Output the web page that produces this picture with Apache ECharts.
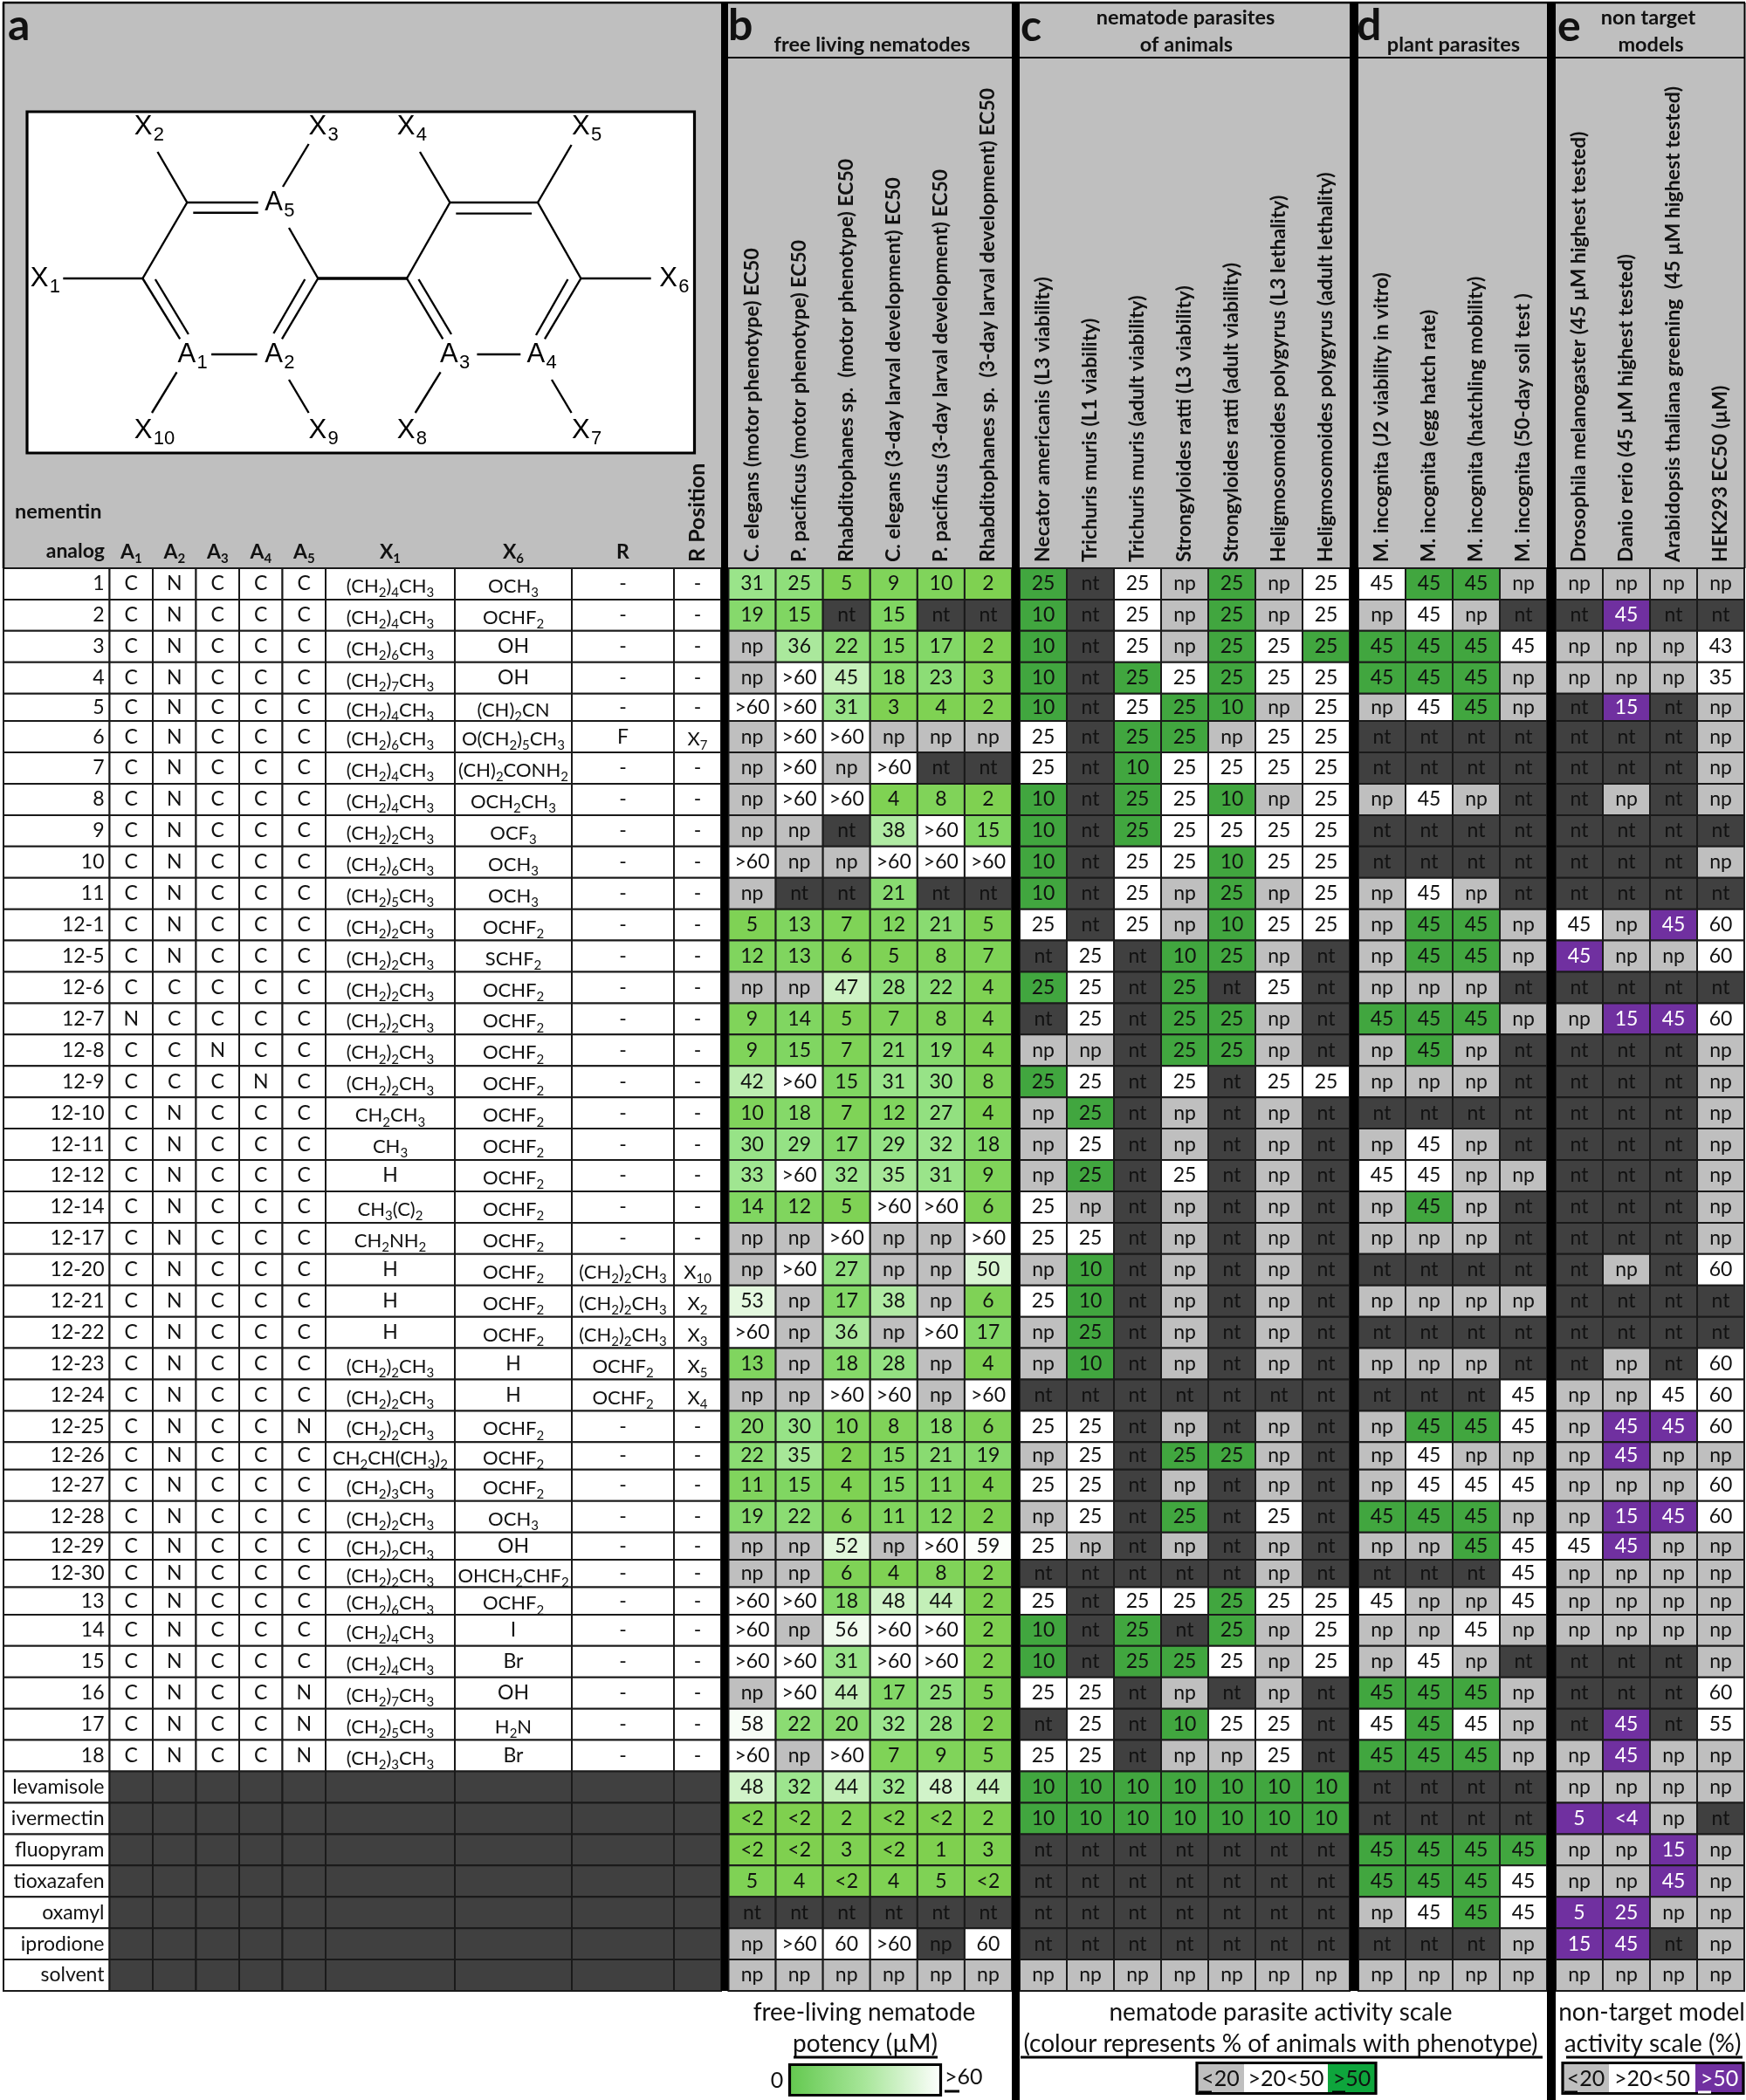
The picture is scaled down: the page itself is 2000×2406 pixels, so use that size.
<!DOCTYPE HTML>
<html>
<head>
    <meta charset="utf-8">
    <title>nementin analogs</title>
    <script type="text/javascript" src="https://cdn.jsdelivr.net/npm/echarts@6/dist/echarts.min.js"></script>
</head>
<body style="padding:0px;margin:0px;background:#fff;">
    <div id="main" style="width:2000px;height:2406px;padding:0px;margin:0px;"></div>
    <script type="text/javascript">
        // compound table, one entry per row
        var rowLabels = ['1','2','3','4','5','6','7','8','9','10','11','12-1','12-5','12-6','12-7','12-8','12-9','12-10','12-11','12-12','12-14','12-17','12-20','12-21','12-22','12-23','12-24','12-25','12-26','12-27','12-28','12-29','12-30','13','14','15','16','17','18','levamisole','ivermectin','fluopyram','tioxazafen','oxamyl','iprodione','solvent'];
        var atoms = ['CNCCC','CNCCC','CNCCC','CNCCC','CNCCC','CNCCC','CNCCC','CNCCC','CNCCC','CNCCC','CNCCC','CNCCC','CNCCC','CCCCC','NCCCC','CCNCC','CCCNC','CNCCC','CNCCC','CNCCC','CNCCC','CNCCC','CNCCC','CNCCC','CNCCC','CNCCC','CNCCC','CNCCN','CNCCC','CNCCC','CNCCC','CNCCC','CNCCC','CNCCC','CNCCC','CNCCC','CNCCN','CNCCN','CNCCN'];
        var x1Groups = ['(CH₂)₄CH₃','(CH₂)₄CH₃','(CH₂)₆CH₃','(CH₂)₇CH₃','(CH₂)₄CH₃','(CH₂)₆CH₃','(CH₂)₄CH₃','(CH₂)₄CH₃','(CH₂)₂CH₃','(CH₂)₆CH₃','(CH₂)₅CH₃','(CH₂)₂CH₃','(CH₂)₂CH₃','(CH₂)₂CH₃','(CH₂)₂CH₃','(CH₂)₂CH₃','(CH₂)₂CH₃','CH₂CH₃','CH₃','H','CH₃(C)₂','CH₂NH₂','H','H','H','(CH₂)₂CH₃','(CH₂)₂CH₃','(CH₂)₂CH₃','CH₂CH(CH₃)₂','(CH₂)₃CH₃','(CH₂)₂CH₃','(CH₂)₂CH₃','(CH₂)₂CH₃','(CH₂)₆CH₃','(CH₂)₄CH₃','(CH₂)₄CH₃','(CH₂)₇CH₃','(CH₂)₅CH₃','(CH₂)₃CH₃'];
        var x6Groups = ['OCH₃','OCHF₂','OH','OH','(CH)₂CN','O(CH₂)₅CH₃','(CH)₂CONH₂','OCH₂CH₃','OCF₃','OCH₃','OCH₃','OCHF₂','SCHF₂','OCHF₂','OCHF₂','OCHF₂','OCHF₂','OCHF₂','OCHF₂','OCHF₂','OCHF₂','OCHF₂','OCHF₂','OCHF₂','OCHF₂','H','H','OCHF₂','OCHF₂','OCHF₂','OCH₃','OH','OHCH₂CHF₂','OCHF₂','I','Br','OH','H₂N','Br'];
        var rGroups = {'6':'F','12-20':'(CH₂)₂CH₃','12-21':'(CH₂)₂CH₃','12-22':'(CH₂)₂CH₃','12-23':'OCHF₂','12-24':'OCHF₂'};
        var rPositions = {'6':'X₇','12-20':'X₁₀','12-21':'X₂','12-22':'X₃','12-23':'X₅','12-24':'X₄'};
        var tableHeaders = ['analog','A₁','A₂','A₃','A₄','A₅','X₁','X₆','R'];

        // column headers of the four assay panels
        var freeLivingHeaders = ['C. elegans (motor phenotype) EC50','P. pacificus (motor phenotype) EC50','Rhabditophanes sp.  (motor phenotype) EC50','C. elegans (3-day larval development) EC50','P. pacificus (3-day larval development) EC50','Rhabditophanes sp.  (3-day larval development) EC50'];
        var animalHeaders = ['Necator americanis (L3 viability)','Trichuris muris (L1 viability)','Trichuris muris (adult viability)','Strongyloides ratti (L3 viability)','Strongyloides ratti (adult viability)','Heligmosomoides polygyrus (L3 lethality)','Heligmosomoides polygyrus (adult lethality)'];
        var plantHeaders = ['M. incognita (J2 viability in vitro)','M. incognita (egg hatch rate)','M. incognita (hatchling mobility)','M. incognita (50-day soil test )'];
        var nonTargetHeaders = ['Drosophila melanogaster (45 µM highest tested)','Danio rerio (45 µM highest tested)','Arabidopsis thaliana greening  (45 µM highest tested)','HEK293 EC50 (µM)'];

        // cell labels per row. '*' = strong activity colour, '!' = dark cell keeping its label
        var freeLivingValues = ['31 25 5 9 10 2','19 15 nt 15 nt nt','np 36 22 15 17 2','np >60 45 18 23 3','>60 >60 31 3 4 2','np >60 >60 np np np','np >60 np >60 nt nt','np >60 >60 4 8 2','np np nt 38 >60 15','>60 np np >60 >60 >60','np nt nt 21 nt nt','5 13 7 12 21 5','12 13 6 5 8 7','np np 47 28 22 4','9 14 5 7 8 4','9 15 7 21 19 4','42 >60 15 31 30 8','10 18 7 12 27 4','30 29 17 29 32 18','33 >60 32 35 31 9','14 12 5 >60 >60 6','np np >60 np np >60','np >60 27 np np 50','53 np 17 38 np 6','>60 np 36 np >60 17','13 np 18 28 np 4','np np >60 >60 np >60','20 30 10 8 18 6','22 35 2 15 21 19','11 15 4 15 11 4','19 22 6 11 12 2','np np 52 np >60 59','np np 6 4 8 2','>60 >60 18 48 44 2','>60 np 56 >60 >60 2','>60 >60 31 >60 >60 2','np >60 44 17 25 5','58 22 20 32 28 2','>60 np >60 7 9 5','48 32 44 32 48 44','<2 <2 2 <2 <2 2','<2 <2 3 <2 1 3','5 4 <2 4 5 <2','nt nt nt nt nt nt','np >60 60 >60 np! 60','np np np np np np'];
        var animalValues = ['25* nt 25 np 25* np 25','10* nt 25 np 25* np 25','10* nt 25 np 25* 25 25*','10* nt 25* 25 25* 25 25','10* nt 25 25* 10* np 25','25 nt 25* 25* np 25 25','25 nt 10* 25 25 25 25','10* nt 25* 25 10* np 25','10* nt 25* 25 25 25 25','10* nt 25 25 10* 25 25','10* nt 25 np 25* np 25','25 nt 25 np 10* 25 25','nt 25 nt 10* 25* np nt','25* 25 nt 25* nt 25 nt','nt 25 nt 25* 25* np nt','np np nt 25* 25* np nt','25* 25 nt 25 nt 25 25','np 25* nt np nt np nt','np 25 nt np nt np nt','np 25* nt 25 nt np nt','25 np nt np nt np nt','25 25 nt np nt np nt','np 10* nt np nt np nt','25 10* nt np nt np nt','np 25* nt np nt np nt','np 10* nt np nt np nt','nt nt nt nt nt nt nt','25 25 nt np nt np nt','np 25 nt 25* 25* np nt','25 25 nt np nt np nt','np 25 nt 25* nt 25 nt','25 np nt np nt np nt','nt nt nt nt nt np nt','25 nt 25 25 25* 25 25','10* nt 25* nt 25* np 25','10* nt 25* 25* 25 np 25','25 25 nt np nt np nt','nt 25 nt 10* 25 25 nt','25 25 nt np np 25 nt','10* 10* 10* 10* 10* 10* 10*','10* 10* 10* 10* 10* 10* 10*','nt nt nt nt nt nt nt','nt nt nt nt nt nt nt','nt nt nt nt nt nt nt','nt nt nt nt nt nt nt','np np np np np np np'];
        var plantValues = ['45 45* 45* np','np 45 np nt','45* 45* 45* 45','45* 45* 45* np','np 45 45* np','nt nt nt nt','nt nt nt nt','np 45 np nt','nt nt nt nt','nt nt nt nt','np 45 np nt','np 45* 45* np','np 45* 45* np','np np np nt','45* 45* 45* np','np 45* np nt','np np np nt','nt nt nt nt','np 45 np nt','45 45 np np','np 45* np nt','np np np nt','nt nt nt nt','np np np np','nt nt nt nt','np np np nt','nt nt nt 45','np 45* 45* 45','np 45 np np','np 45 45 45','45* 45* 45* np','np np 45* 45','nt nt nt 45','45 np np 45','np np 45 np','np 45 np nt','45* 45* 45* np','45 45* 45 np','45* 45* 45* np','nt nt nt nt','nt nt nt nt','45* 45* 45* 45*','45* 45* 45* 45','np 45 45* 45','nt nt nt np','np np np np'];
        var nonTargetValues = ['np np np np','nt 45* nt nt','np np np 43','np np np 35','nt 15* nt np','nt nt nt np','nt nt nt np','nt np nt np','nt nt nt nt','nt nt nt np','nt nt nt nt','45 np 45* 60','45* np np 60','nt nt nt nt','np 15* 45* 60','nt nt nt np','nt nt nt np','nt nt nt np','nt nt nt np','nt nt nt np','nt nt nt np','nt nt nt np','nt np nt 60','nt nt nt nt','nt nt nt nt','nt np nt 60','np np 45 60','np 45* 45* 60','np 45* np np','np np np 60','np 15* 45* 60','45 45* np np','np np np np','np np np np','np np np np','nt nt nt np','nt nt nt 60','nt 45* nt 55','np 45* np np','np np np np','5* <4* np nt','np np 15* np','np np 45* np','5* 25* np np','15* 45* nt np','np np np np'];

        // rows that were drawn a bit lower in the source table
        var narrowRows = ['5','12-26','12-29','12-30','13'];
        var potencyColors = ['#7fd04e','#80d662','#97e387','#c6f0bb','#ffffff'];
        var GREY = '#bfbfbf', DARK = '#404040', GREEN = '#41a63f', PURPLE = '#7030a0', LINE = '#1a1a1a', INK = '#111';
        var FONT = 'Lato';

        var tableTop = 651, tableHeight = 1630;
        var rowTops = [], rowSizes = [], totalUnits = 0;
        rowLabels.forEach(function (name) {
            var size = narrowRows.indexOf(name) >= 0 ? 0.875 : 1;
            rowTops.push(totalUnits);
            rowSizes.push(size);
            totalUnits += size;
        });

        var myChart = echarts.init(document.getElementById('main'));

        // unicode subscripts -> rich text so they sit lower and larger than the font's own glyphs
        var SUBS = '₀₁₂₃₄₅₆₇₈₉';
        function hasSub(text) {
            return /[₀-₉]/.test(text);
        }
        function richText(text) {
            var out = '', main = '', sub = '';
            function flush() {
                if (main) out += '{m|' + main + '}';
                if (sub) out += '{s|' + sub + '}';
                main = sub = '';
            }
            text.split('').forEach(function (ch) {
                var i = SUBS.indexOf(ch);
                if (i >= 0) {
                    sub += i;
                } else {
                    if (sub) flush();
                    main += ch;
                }
            });
            flush();
            return out;
        }
        function richStyles(size, weight, color) {
            return {
                m: { fontFamily: FONT, fontSize: size, fontWeight: weight, lineHeight: 30, fill: color },
                s: { fontFamily: FONT, fontSize: Math.round(size * 0.66), fontWeight: weight, lineHeight: 16, verticalAlign: 'bottom', fill: color }
            };
        }

        function cellStyle(token, strongColor) {
            if (token == 'np') return { fill: GREY, text: INK };
            if (token == 'nt' || token.indexOf('!') > 0) return { fill: DARK, text: INK };
            if (token.indexOf('*') > 0) return { fill: strongColor, text: strongColor == PURPLE ? '#fff' : INK };
            if (!strongColor) {
                // free living panel: colour runs with the potency value
                var num = token.charAt(0) == '>' ? 60 : token.charAt(0) == '<' ? 1 : Number(token);
                return { fill: echarts.color.lerp(Math.min(num, 60) / 60, potencyColors), text: INK };
            }
            return { fill: '#fff', text: INK };
        }

        // one custom series per panel, cells go through the category + value axes
        function panelSeries(index, rows, strongColor) {
            var labels = [], data = [];
            rows.forEach(function (row, r) {
                row.split(' ').forEach(function (token, c) {
                    labels.push(token);
                    data.push([c, rowTops[r], rowSizes[r]]);
                });
            });
            return {
                type: 'custom',
                xAxisIndex: index,
                yAxisIndex: index,
                clip: false,
                silent: true,
                animation: false,
                encode: { x: 0, y: 1 },
                data: data,
                renderItem: function (params, api) {
                    var c = api.value(0), top = api.value(1), size = api.value(2);
                    var y0 = api.coord([c, top])[1];
                    var y1 = api.coord([c, top + size])[1];
                    var cx = api.coord([c, top])[0];
                    var w = api.size([1, 0])[0];
                    var token = labels[params.dataIndex];
                    var st = cellStyle(token, strongColor);
                    return {
                        type: 'group',
                        children: [
                            { type: 'rect', shape: { x: cx - w / 2, y: y0, width: w, height: y1 - y0 }, style: { fill: st.fill, stroke: LINE, lineWidth: 2 } },
                            { type: 'text', style: { text: token.replace(/[*!]/, ''), x: cx, y: (y0 + y1) / 2, textAlign: 'center', textVerticalAlign: 'middle', font: '23px ' + FONT, fill: st.text } }
                        ]
                    };
                }
            };
        }

        // left hand structure table
        var colEdges = [0, 121.5, 171, 220.5, 270, 319.5, 369, 517, 651, 768, 822];
        var tableCells = [];
        rowLabels.forEach(function (name, r) {
            var texts = [name];
            if (r < atoms.length) {
                texts = texts.concat(atoms[r].split(''), [x1Groups[r], x6Groups[r], rGroups[name] || '-', rPositions[name] || '-']);
            }
            for (var c = 0; c < colEdges.length - 1; c++) {
                tableCells.push({ col: c, row: r, text: texts[c] || '' });
            }
        });
        var tableSeries = {
            type: 'custom',
            xAxisIndex: 4,
            yAxisIndex: 4,
            clip: false,
            silent: true,
            animation: false,
            encode: { x: [0, 1], y: 2 },
            data: tableCells.map(function (d) {
                return [colEdges[d.col], colEdges[d.col + 1], rowTops[d.row], rowSizes[d.row]];
            }),
            renderItem: function (params, api) {
                var d = tableCells[params.dataIndex];
                var p0 = api.coord([api.value(0), api.value(2)]);
                var p1 = api.coord([api.value(1), api.value(2) + api.value(3)]);
                var isControl = d.row >= atoms.length && d.col > 0;
                var first = d.col == 0;
                var sub = hasSub(d.text);
                var textStyle = {
                    x: first ? p1[0] - 6 : (p0[0] + p1[0]) / 2,
                    y: (p0[1] + p1[1]) / 2 + (sub ? 3 : 0),
                    textAlign: first ? 'right' : 'center',
                    textVerticalAlign: 'middle',
                    fill: INK
                };
                if (sub) {
                    textStyle.text = richText(d.text);
                    textStyle.rich = richStyles(22, 'normal', INK);
                } else {
                    textStyle.text = d.text;
                    textStyle.font = '23px ' + FONT;
                }
                return {
                    type: 'group',
                    children: [
                        { type: 'rect', shape: { x: p0[0], y: p0[1], width: p1[0] - p0[0], height: p1[1] - p0[1] }, style: { fill: isControl ? DARK : '#fff', stroke: LINE, lineWidth: 2 } },
                        { type: 'text', style: textStyle }
                    ]
                };
            }
        };

        function panelGrid(left, width) {
            return { left: left, width: width, top: tableTop, height: tableHeight };
        }
        function panelX(index, headers) {
            return {
                type: 'category',
                gridIndex: index,
                data: headers,
                position: 'top',
                axisLine: { show: false },
                axisTick: { show: false },
                axisLabel: { interval: 0, rotate: 90, margin: 7, fontFamily: FONT, fontWeight: 'bold', fontSize: 23, color: INK }
            };
        }
        function panelY(index) {
            return { type: 'value', gridIndex: index, min: 0, max: totalUnits, inverse: true, show: false };
        }

        // fixed drawing parts: backgrounds, molecule, legends
        var items = [];
        function rect(x, y, w, h, fill, z) {
            items.push({ type: 'rect', z: z === undefined ? -10 : z, silent: true, shape: { x: x, y: y, width: w, height: h }, style: { fill: fill } });
        }
        function frame(x, y, w, h, z) {
            items.push({ type: 'rect', z: z, silent: true, shape: { x: x, y: y, width: w, height: h }, style: { fill: 'none', stroke: '#000', lineWidth: 3.2 } });
        }
        function line(x1, y1, x2, y2, width, color) {
            items.push({ type: 'line', z: 7, silent: true, shape: { x1: x1, y1: y1, x2: x2, y2: y2 }, style: { stroke: color || '#000', lineWidth: width } });
        }
        function label(text, x, y, font, align, color) {
            items.push({ type: 'text', z: 6, silent: true, style: { text: text, x: x, y: y, font: font, fill: color || INK, textAlign: align || 'center', textVerticalAlign: 'middle' } });
        }
        function subLabel(text, x, y, size) {
            items.push({ type: 'text', z: 6, silent: true, style: { text: richText(text), rich: richStyles(size, 'bold', INK), x: x, y: y, fill: INK, textAlign: 'center', textVerticalAlign: 'middle' } });
        }

        // header bands
        rect(4, 3, 822, 648, GREY);
        rect(834, 3, 325, 648, GREY);
        rect(1168, 3, 378, 648, GREY);
        rect(1556, 3, 216, 648, GREY);
        rect(1782, 3, 216, 648, GREY);
        line(3, 3, 1999, 3, 2.5);
        line(4, 3, 4, 651, 2.5);
        line(1998.5, 3, 1998.5, 651, 2);
        [[834, 1159], [1168, 1546], [1556, 1772], [1782, 1998]].forEach(function (b) { line(b[0], 66, b[1], 66, 2); });
        // thick separators between panels
        rect(826, 3, 8, 2278, '#000', 4);
        rect(1159, 3, 9, 2403, '#000', 4);
        rect(1546, 3, 10, 2278, '#000', 4);
        rect(1772, 3, 10, 2403, '#000', 4);

        var letterFont = 'bold 50px ' + FONT;
        label('a', 9, 30, letterFont, 'left');
        label('b', 834, 30, letterFont, 'left');
        label('c', 1169, 31, letterFont, 'left');
        label('d', 1554, 30, letterFont, 'left');
        label('e', 1784, 31, letterFont, 'left');
        var titleFont = 'bold 23.5px ' + FONT;
        label('free living nematodes', 999, 51, titleFont);
        label('nematode parasites', 1358, 20, titleFont);
        label('of animals', 1359, 51, titleFont);
        label('plant parasites', 1665, 51, titleFont);
        label('non target', 1888, 20, titleFont);
        label('models', 1891, 51, titleFont);

        label('nementin', 17, 586, 'bold 23.5px ' + FONT, 'left');
        label(tableHeaders[0], 120, 632, 'bold 23px ' + FONT, 'right');
        for (var h = 1; h < tableHeaders.length; h++) {
            subLabel(tableHeaders[h], 4 + (colEdges[h] + colEdges[h + 1]) / 2, 633, 23);
        }
        items.push({ type: 'text', z: 6, silent: true, x: 799, y: 644, rotation: Math.PI / 2, style: { text: 'R Position', x: 0, y: 0, font: 'bold 25px ' + FONT, fill: INK, textAlign: 'left', textVerticalAlign: 'middle' } });

        // molecule panel
        rect(31, 128, 764.5, 391, '#fff', 1);
        frame(31, 128, 764.5, 391, 2);
        var bonds = [
            [180.5,174,214.3,232],[214.3,232,295.7,232],[221.3,243.8,295.7,243.8],[353.6,165,324,214],[214.3,232,163.4,319],
            [72.3,319,163.4,319],[163.4,319,206.2,388.4],[177.9,320,215.9,383],[242.1,406,294.6,406],[202.5,426.3,174,473],
            [331,435,353.6,473],[331,261,364.3,319],[364.3,319,323,388.4],[349.3,320,313.4,382],[466,319,515.4,232],
            [481,174,515.4,232],[515.4,232,616,232],[522.3,244.6,609.1,244.6],[654.6,166,616,232],[616,232,665.4,319],
            [665.4,319,745.7,319],[665.4,319,624,388.4],[650.4,320,614,384],[466,319,507.3,388.4],[479.5,320,517,383],
            [546.4,406,596.3,406],[504.6,426.3,475.7,473],[632,435,654.6,473]
        ];
        bonds.forEach(function (b) { line(b[0], b[1], b[2], b[3], 2.4); });
        line(364.3, 319, 466, 319, 3.6);
        var atomLabels = [
            ['X','2',153.7,145],['X','3',353.5,145],['X','4',454.8,145],['X','5',655,145],['X','1',34.8,319],['X','6',755.2,319],
            ['A','5',303.2,232],['A','1',203.5,406],['A','2',303.2,406],['A','3',504,406],['A','4',603.6,406],
            ['X','10',153.7,493.3],['X','9',353.5,493.3],['X','8',454.8,493.3],['X','7',655,493.3]
        ];
        atomLabels.forEach(function (a) {
            label(a[0], a[2], a[3], '31px "Liberation Sans"', 'left', '#000');
            label(a[1], a[2] + 22, a[3] + 10, '22px "Liberation Sans"', 'left', '#000');
        });

        // legends under the panels
        var legendFont = '28px ' + FONT, boxFont = '25px ' + FONT;
        label('free-living nematode', 990, 2306, legendFont);
        label('potency (µM)', 991, 2342, legendFont);
        line(909, 2357, 1074, 2357, 3);
        items.push({ type: 'rect', z: 5, silent: true, shape: { x: 904.5, y: 2365.5, width: 173, height: 35 }, style: { stroke: '#000', lineWidth: 3.2, fill: new echarts.graphic.LinearGradient(0, 0, 1, 0, [{ offset: 0, color: '#62c84e' }, { offset: 0.5, color: '#a8e69a' }, { offset: 1, color: '#ffffff' }]) } });
        label('0', 890, 2384, boxFont);
        label('>60', 1082, 2380, boxFont, 'left');
        line(1082, 2396, 1099, 2396, 3);

        label('nematode parasite activity scale', 1467, 2306, legendFont);
        label('(colour represents % of animals with phenotype)', 1467, 2342, legendFont);
        line(1169, 2357, 1767, 2357, 3);
        function scaleBox(x, y, h, stops) {
            // stops: [width, fill, text, textColor]
            var cx = x;
            stops.forEach(function (s) {
                rect(cx, y, s[0], h, s[1], 5);
                label(s[2], cx + s[0] / 2, y + h / 2 + 1, boxFont, 'center', s[3]);
                cx += s[0];
            });
            frame(x, y, cx - x, h, 6);
        }
        scaleBox(1371, 2363.5, 35, [[54, GREY, '<20'], [96, '#fff', '>20<50'], [55, '#0ea53c', '>50']]);
        line(1373, 2397, 1388, 2397, 3);
        line(1526, 2397, 1541, 2397, 3);

        label('non-target model', 1892, 2306, legendFont);
        label('activity scale (%)', 1893, 2342, legendFont);
        line(1794, 2357, 1996, 2357, 3);
        scaleBox(1790, 2363.5, 35, [[53, GREY, '<20'], [99, '#fff', '>20<50'], [55, PURPLE, '>50', '#fff']]);
        line(1792, 2397, 1807, 2397, 3);
        line(1945, 2397, 1960, 2397, 3, '#fff');

        var option = {
            backgroundColor: '#ffffff',
            animation: false,
            grid: [
                panelGrid(834.5, 324.5),
                panelGrid(1168, 378),
                panelGrid(1556, 216),
                panelGrid(1782, 216),
                panelGrid(4, 822)
            ],
            xAxis: [
                panelX(0, freeLivingHeaders),
                panelX(1, animalHeaders),
                panelX(2, plantHeaders),
                panelX(3, nonTargetHeaders),
                { type: 'value', gridIndex: 4, min: 0, max: 822, show: false }
            ],
            yAxis: [panelY(0), panelY(1), panelY(2), panelY(3), panelY(4)],
            series: [
                panelSeries(0, freeLivingValues, null),
                panelSeries(1, animalValues, GREEN),
                panelSeries(2, plantValues, GREEN),
                panelSeries(3, nonTargetValues, PURPLE),
                tableSeries
            ],
            graphic: { elements: items }
        };
        myChart.setOption(option);
    </script>
</body>
</html>
